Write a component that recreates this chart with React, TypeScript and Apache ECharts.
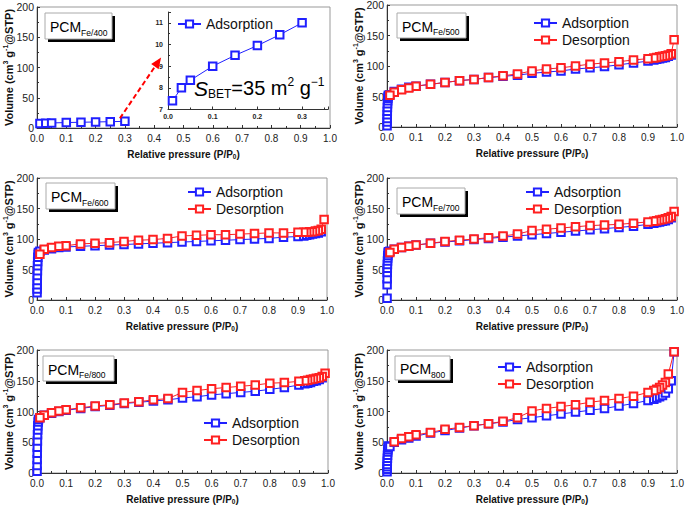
import React, { useEffect, useRef } from 'react';
import * as echarts from 'echarts';

const FONT = 'Arial, "Liberation Sans", Helvetica, sans-serif';
const BLUE = '#2020ff';
const RED = '#ff2020';

// ---------- data ----------
const LOW_P = [0.0002, 0.0004, 0.0006, 0.0008, 0.001, 0.0014, 0.0018, 0.0024, 0.003, 0.004, 0.005];
const ADS_P = [0.01, 0.025, 0.05, 0.075, 0.1, 0.15, 0.2, 0.25, 0.3, 0.35, 0.4, 0.45, 0.5, 0.55, 0.6, 0.65, 0.7, 0.75, 0.8, 0.85, 0.9, 0.92, 0.93, 0.94, 0.95, 0.96, 0.97, 0.98];
const DES_P = [0.99, 0.98, 0.97, 0.96, 0.95, 0.94, 0.93, 0.92, 0.9, 0.85, 0.8, 0.75, 0.7, 0.65, 0.6, 0.55, 0.5, 0.45, 0.4, 0.35, 0.3, 0.25, 0.2, 0.15, 0.1, 0.075, 0.05, 0.025, 0.01];
const ADS_P_800 = [0.01, 0.025, 0.05, 0.075, 0.1, 0.15, 0.2, 0.25, 0.3, 0.35, 0.4, 0.45, 0.5, 0.55, 0.6, 0.65, 0.7, 0.75, 0.8, 0.85, 0.9, 0.92, 0.93, 0.94, 0.95, 0.96, 0.97, 0.98, 0.99];
const DES_P_800 = [0.99, 0.97, 0.96, 0.95, 0.94, 0.93, 0.92, 0.9, 0.85, 0.8, 0.75, 0.7, 0.65, 0.6, 0.55, 0.5, 0.45, 0.4, 0.35, 0.3, 0.25, 0.2, 0.15, 0.1, 0.075, 0.05, 0.025];

// PCM Fe/400 (adsorption only, also drawn in the inset)
const FE400_P = [0.01, 0.03, 0.05, 0.1, 0.15, 0.2, 0.25, 0.3];
const FE400_V = [7.4, 8.0, 8.35, 9.0, 9.5, 9.95, 10.45, 11.0];

// PCM Fe/500
const FE500_LOW = [2, 8, 14, 20, 26, 32, 38, 43, 47, 50, 52];
const FE500_ADS = [53, 58, 62, 65, 67, 70, 73, 76, 78, 81, 83, 85, 88, 90, 92, 95, 97, 99, 102, 105, 108, 110, 111, 112, 113, 114, 116, 118];
const FE500_DES = [143, 120, 118, 117, 116, 115, 114, 113, 112, 110, 107, 105, 103, 100, 97, 95, 92, 87, 84, 81, 78, 76, 73, 70, 67, 64, 61, 57, 52];

// PCM Fe/600
const FE600_LOW = [12, 18, 25, 32, 40, 48, 56, 63, 70, 75, 78];
const FE600_ADS = [80, 82, 84, 86, 87, 88, 89, 90, 91, 92, 93, 94, 95, 96, 97, 98, 99, 100, 101, 103, 104, 105, 106, 107, 108, 109, 110, 112];
const FE600_DES = [132, 116, 114, 113, 112, 112, 111, 111, 111, 110, 110, 109, 108, 107, 107, 106, 105, 101, 99, 98, 96, 94, 93, 92, 89, 88, 86, 83, 75];

// PCM Fe/700
const FE700_LOW = [3, 25, 35, 45, 52, 58, 64, 69, 73, 77, 79];
const FE700_ADS = [80, 83, 86, 88, 90, 93, 95, 97, 99, 101, 103, 105, 107, 109, 111, 113, 115, 117, 119, 121, 124, 126, 127, 128, 129, 130, 132, 135];
const FE700_DES = [145, 137, 135, 133, 132, 131, 130, 129, 128, 126, 124, 123, 122, 120, 118, 116, 114, 108, 105, 102, 100, 98, 96, 93, 90, 88, 86, 83, 78];

// PCM Fe/800
const FE800_LOW = [3, 12, 22, 32, 42, 52, 62, 70, 77, 83, 87];
const FE800_ADS = [90, 94, 97, 100, 102, 105, 108, 110, 113, 115, 117, 119, 122, 124, 127, 129, 131, 133, 136, 139, 143, 145, 146, 147, 149, 150, 152, 155];
const FE800_DES = [162, 157, 155, 154, 153, 152, 151, 150, 149, 147, 146, 143, 141, 139, 137, 134, 131, 121, 119, 116, 114, 111, 109, 106, 103, 101, 98, 94, 90];

// PCM 800
const P800_LOW = [2, 6, 10, 14, 19, 24, 29, 34, 38, 41, 44];
const P800_ADS = [43, 50, 54, 57, 60, 65, 69, 73, 77, 80, 83, 87, 90, 93, 96, 99, 102, 105, 109, 113, 118, 120, 122, 124, 126, 130, 137, 150, 197];
const P800_DES = [197, 161, 147, 143, 139, 136, 134, 131, 125, 121, 118, 115, 111, 108, 105, 101, 90, 84, 80, 77, 74, 71, 66, 62, 59, 56, 51];

const Y_MAIN_MAX = 200;
const Y_MAIN_STEP = 50;
const X_STEP = 0.1;

const zip = (xs: number[], ys: number[]) => xs.map((x, i) => [x, ys[i]]);

type Panel = {
  grid: { left: number; top: number; width: number; height: number };
  legend: [number, number];
  box: [number, number, number, number];
  sub: string;
  ads: number[][];
  des: number[][] | null;
};

const panels: Panel[] = [
  { grid: { left: 37, top: 7, width: 293, height: 121 }, legend: [177, 16], box: [45, 13, 67, 26], sub: 'Fe/400', ads: zip(FE400_P, FE400_V), des: null },
  { grid: { left: 387, top: 5, width: 290, height: 122 }, legend: [533, 15], box: [397, 13, 69, 25], sub: 'Fe/500', ads: zip([...LOW_P, ...ADS_P], [...FE500_LOW, ...FE500_ADS]), des: zip(DES_P, FE500_DES) },
  { grid: { left: 37, top: 178, width: 290, height: 122 }, legend: [187, 184], box: [46, 183, 69, 26], sub: 'Fe/600', ads: zip([...LOW_P, ...ADS_P], [...FE600_LOW, ...FE600_ADS]), des: zip(DES_P, FE600_DES) },
  { grid: { left: 387, top: 178, width: 290, height: 122 }, legend: [525, 184], box: [397, 188, 68, 26], sub: 'Fe/700', ads: zip([...LOW_P, ...ADS_P], [...FE700_LOW, ...FE700_ADS]), des: zip(DES_P, FE700_DES) },
  { grid: { left: 37, top: 350, width: 291, height: 123 }, legend: [203, 415], box: [43, 356, 71, 25], sub: 'Fe/800', ads: zip([...LOW_P, ...ADS_P], [...FE800_LOW, ...FE800_ADS]), des: zip(DES_P, FE800_DES) },
  { grid: { left: 387, top: 350, width: 290, height: 123 }, legend: [497, 359], box: [395, 356, 55, 24], sub: '800', ads: zip([...LOW_P, ...ADS_P_800], [...P800_LOW, ...P800_ADS]), des: zip(DES_P_800, P800_DES) },
];

const AXIS_COLOR = '#333';

function mainXAxis(i: number) {
  return {
    type: 'value', gridIndex: i, min: 0, max: 1, interval: X_STEP,
    name: 'Relative pressure (P/P{sub|0})', nameLocation: 'middle', nameGap: 20, nameMoveOverlap: false,
    nameTextStyle: {
      fontFamily: FONT, fontSize: 10, fontWeight: 'bold', color: '#111', lineHeight: 12,
      rich: { sub: { fontFamily: FONT, fontSize: 6.5, fontWeight: 'bold', color: '#111', lineHeight: 5, verticalAlign: 'bottom' } },
    },
    axisLine: { show: true, lineStyle: { color: AXIS_COLOR, width: 1 } },
    axisTick: { show: true, inside: true, length: 3, lineStyle: { color: AXIS_COLOR } },
    minorTick: { show: true, splitNumber: 2, length: 2, lineStyle: { color: AXIS_COLOR } },
    splitLine: { show: false },
    axisLabel: { fontFamily: FONT, fontSize: 10, color: '#222', margin: 5, formatter: (v: number) => v.toFixed(1), showMaxLabel: true, showMinLabel: true },
  };
}

function mainYAxis(i: number) {
  return {
    type: 'value', gridIndex: i, min: 0, max: Y_MAIN_MAX, interval: Y_MAIN_STEP,
    name: 'Volume (cm{sup|3} g{sup|-1}@STP)', nameLocation: 'middle', nameGap: 22, nameRotate: 90, nameMoveOverlap: false,
    nameTextStyle: {
      fontFamily: FONT, fontSize: 11, fontWeight: 'bold', color: '#111', lineHeight: 13,
      rich: { sup: { fontFamily: FONT, fontSize: 7, fontWeight: 'bold', color: '#111', lineHeight: 6, verticalAlign: 'top' } },
    },
    axisLine: { show: true, lineStyle: { color: AXIS_COLOR, width: 1 } },
    axisTick: { show: true, inside: true, length: 3, lineStyle: { color: AXIS_COLOR } },
    minorTick: { show: true, splitNumber: 2, length: 2, lineStyle: { color: AXIS_COLOR } },
    splitLine: { show: false },
    axisLabel: { fontFamily: FONT, fontSize: 10.5, color: '#222', margin: 3 },
  };
}

function lineSeries(name: string, color: string, data: number[][], axis: number, extra: any = {}) {
  return {
    type: 'line', name, xAxisIndex: axis, yAxisIndex: axis, data,
    symbol: 'emptyRect', symbolSize: 7.5, showAllSymbol: true,
    lineStyle: { color, width: 1 },
    itemStyle: { color, borderColor: color, borderWidth: 1.2 },
    emphasis: { disabled: true },
    ...extra,
  };
}

export default function App() {
  const ref = useRef<HTMLDivElement>(null);

  useEffect(() => {
    document.body.style.margin = '0';
    const chart = echarts.init(ref.current!, undefined, { renderer: 'svg' });

    const INSET = panels.length;
    const grids: any[] = panels.map((p) => ({
      ...p.grid, show: true, borderColor: '#999', borderWidth: 1, backgroundColor: 'transparent', containLabel: false, outerBoundsMode: 'none',
    }));
    grids.push({ left: 168, top: 12, width: 160, height: 97.5, show: true, backgroundColor: '#fff', borderWidth: 0, borderColor: 'transparent', containLabel: false, outerBoundsMode: 'none' });

    const xAxes: any[] = panels.map((_, i) => mainXAxis(i));
    xAxes.push({
      type: 'value', gridIndex: INSET, min: 0, max: 0.358, interval: X_STEP,
      axisLine: { show: true, lineStyle: { color: AXIS_COLOR } },
      axisTick: { show: true, inside: true, length: 3, lineStyle: { color: AXIS_COLOR } },
      minorTick: { show: true, splitNumber: 2, length: 2, lineStyle: { color: AXIS_COLOR } },
      splitLine: { show: false },
      axisLabel: { fontFamily: FONT, fontSize: 7, fontWeight: 'bold', color: '#222', margin: 3, formatter: (v: number) => v.toFixed(1), showMaxLabel: false },
    });
    const yAxes: any[] = panels.map((_, i) => mainYAxis(i));
    yAxes.push({
      type: 'value', gridIndex: INSET, min: 7, max: 11.5, interval: 1,
      axisLine: { show: true, lineStyle: { color: AXIS_COLOR } },
      axisTick: { show: true, inside: true, length: 3, lineStyle: { color: AXIS_COLOR } },
      minorTick: { show: true, splitNumber: 2, length: 2, lineStyle: { color: AXIS_COLOR } },
      splitLine: { show: false },
      axisLabel: { fontFamily: FONT, fontSize: 7, fontWeight: 'bold', color: '#222', margin: 5, showMaxLabel: false },
    });

    const series: any[] = [];
    panels.forEach((p, i) => {
      const extra = i === 0 ? {
        markLine: {
          silent: true, symbol: ['none', 'triangle'], symbolSize: [9, 11], animation: false,
          label: { show: false },
          lineStyle: { color: '#ff0000', width: 2, type: [5, 3] },
          data: [[{ coord: [0.283, 16] }, { coord: [0.413, 109] }]],
        },
      } : {};
      series.push(lineSeries('Adsorption', BLUE, p.ads, i, extra));
      if (p.des) series.push(lineSeries('Desorption', RED, p.des, i));
    });
    series.push(lineSeries('Adsorption', BLUE, panels[0].ads, INSET));

    const legends = panels.map((p) => ({
      show: true, orient: 'vertical', left: p.legend[0], top: p.legend[1], padding: 0,
      itemWidth: 23, itemHeight: 9, itemGap: 1, selectedMode: false,
      data: p.des ? ['Adsorption', 'Desorption'] : ['Adsorption'],
      textStyle: { fontFamily: FONT, fontSize: 14, color: '#111', lineHeight: 16 },
    }));

    const graphics: any[] = [];
    panels.forEach((p) => {
      const [x, y, w, h] = p.box;
      graphics.push({ type: 'rect', z: 100, shape: { x: x + 3, y: y + 3, width: w, height: h }, style: { fill: '#000' } });
      graphics.push({ type: 'rect', z: 101, shape: { x, y, width: w, height: h }, style: { fill: '#fff', stroke: '#aaa', lineWidth: 1 } });
      graphics.push({
        type: 'text', z: 102, x: x + 5, y: y + h / 2 + 1,
        style: {
          text: '{a|PCM}{b|' + p.sub + '}', verticalAlign: 'middle', align: 'left',
          rich: {
            a: { fontFamily: FONT, fontSize: 14, color: '#000', lineHeight: 20 },
            b: { fontFamily: FONT, fontSize: 8.5, color: '#000', lineHeight: 6, verticalAlign: 'bottom' },
          },
        },
      });
    });
    graphics.push({
      type: 'text', z: 102, x: 194, y: 88,
      style: {
        text: '{s|S}{sb|BET}{n|=35 m}{sp|2}{n| g}{sp|\u22121}', verticalAlign: 'middle', align: 'left',
        rich: {
          s: { fontFamily: FONT, fontSize: 21, fontStyle: 'italic', color: '#000', lineHeight: 24 },
          sb: { fontFamily: FONT, fontSize: 12, color: '#000', lineHeight: 6, verticalAlign: 'bottom' },
          n: { fontFamily: FONT, fontSize: 20, color: '#000', lineHeight: 24 },
          sp: { fontFamily: FONT, fontSize: 12, color: '#000', lineHeight: 6, verticalAlign: 'top' },
        },
      },
    });

    chart.setOption({
      animation: false,
      backgroundColor: '#fff',
      textStyle: { fontFamily: FONT },
      grid: grids,
      xAxis: xAxes,
      yAxis: yAxes,
      legend: legends,
      series,
      graphic: graphics,
    });
    return () => chart.dispose();
  }, []);

  return <div ref={ref} style={{ width: 685, height: 507 }} />;
}
